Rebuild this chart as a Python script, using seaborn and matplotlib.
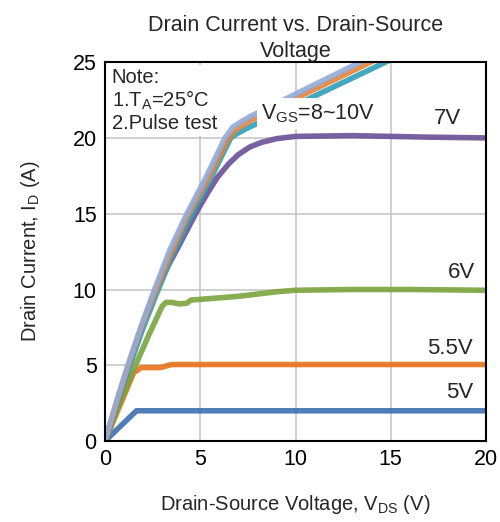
import pandas as pd
import matplotlib
matplotlib.use('Agg')
import matplotlib.pyplot as plt
import seaborn as sns

# Curves (V_DS in V, I_D in A)
vgs_10_x = [0, 0.6, 1.2, 1.9, 2.6, 3.4, 4.3, 5.3, 6.3, 6.7, 7.2, 7.6, 14.2]
vgs_10_y = [0, 2.6, 5.0, 7.6, 10.0, 12.6, 15.0, 17.4, 20.0, 20.7, 21.1, 21.4, 25.5]
vgs_9_x = [0, 0.6, 1.2, 1.9, 2.65, 3.5, 4.35, 5.4, 6.4, 6.8, 7.3, 7.7, 14.6]
vgs_9_y = [0, 2.5, 4.9, 7.5, 9.9, 12.5, 14.9, 17.3, 19.8, 20.5, 20.9, 21.2, 25.4]
vgs_8_x = [0, 0.6, 1.25, 1.95, 2.7, 3.55, 4.45, 5.5, 6.6, 6.95, 7.4, 7.9, 15.4]
vgs_8_y = [0, 2.4, 4.8, 7.3, 9.7, 12.3, 14.7, 17.2, 20.0, 20.3, 20.6, 20.9, 25.4]
vgs_7_x = [0, 0.6, 1.25, 1.9, 2.6, 3.2, 3.8, 4.3, 4.8, 5.4, 5.9, 6.5, 7.0, 7.6, 8.2, 9.0, 10.0, 13.0, 17.0, 20.0]
vgs_7_y = [0, 2.4, 4.9, 7.4, 9.8, 11.3, 12.7, 13.9, 15.1, 16.4, 17.4, 18.3, 18.9, 19.4, 19.7, 19.95, 20.1, 20.15, 20.05, 20.0]
vgs_6_x = [0, 0.8, 1.6, 2.3, 3.0, 3.2, 3.5, 3.9, 4.3, 4.5, 5.0, 7.0, 9.0, 10.0, 13.0, 16.0, 20.0]
vgs_6_y = [0, 2.6, 5.0, 7.0, 8.9, 9.15, 9.15, 9.05, 9.1, 9.3, 9.35, 9.55, 9.85, 9.95, 10.0, 10.0, 9.95]
vgs_55_x = [0, 1.5, 1.9, 2.9, 3.5, 20.0]
vgs_55_y = [0, 4.5, 4.85, 4.85, 5.05, 5.05]
vgs_5_x = [0, 1.65, 20.0]
vgs_5_y = [0, 2.0, 2.0]

series = [
    ('5V', vgs_5_x, vgs_5_y, '#3d6fb1'),
    ('5.5V', vgs_55_x, vgs_55_y, '#e8721c'),
    ('6V', vgs_6_x, vgs_6_y, '#7ba33d'),
    ('7V', vgs_7_x, vgs_7_y, '#6b4f96'),
    ('8V', vgs_8_x, vgs_8_y, '#30a0b8'),
    ('9V', vgs_9_x, vgs_9_y, '#e5833a'),
    ('10V', vgs_10_x, vgs_10_y, '#94abd8'),
]

rows = []
for name, xs, ys, _ in series:
    for x, y in zip(xs, ys):
        rows.append({'VGS': name, 'VDS': x, 'ID': y})
df = pd.DataFrame(rows)
palette = {name: c for name, _, _, c in series}

sns.set_theme(style='white')
plt.rcParams['font.family'] = ['Liberation Sans', 'DejaVu Sans']
plt.rcParams['mathtext.default'] = 'regular'

fig = plt.figure(figsize=(5.0, 5.22), dpi=100)
ax = fig.add_axes([0.21, 0.155, 0.762, 0.726])

sns.lineplot(data=df, x='VDS', y='ID', hue='VGS', palette=palette,
             sort=False, estimator=None, linewidth=4.0, alpha=0.9,
             legend=False, ax=ax)

ax.set_xlim(0, 20)
ax.set_ylim(0, 25)
ax.set_xticks([0, 5, 10, 15, 20])
ax.set_yticks([0, 5, 10, 15, 20, 25])
ax.grid(True, color='#c8c8c8', linewidth=1.2)
ax.set_axisbelow(True)
for s in ax.spines.values():
    s.set_color('black')
    s.set_linewidth(1.5)
ax.tick_params(labelsize=15.5, length=0, pad=6, colors='black')

ax.set_title('Drain Current vs. Drain-Source\nVoltage', fontsize=15.5, pad=4,
             linespacing=1.3)
ax.set_xlabel('Drain-Source Voltage, V$_{DS}$ (V)', fontsize=14.5, labelpad=16)
ax.set_ylabel('Drain Current, I$_D$ (A)', fontsize=14.5, labelpad=22)

ax.text(0.35, 24.6, 'Note:\n1.T$_A$=25°C\n2.Pulse test', fontsize=14.5,
        va='top', ha='left', linespacing=1.1,
        bbox=dict(facecolor='white', edgecolor='none', pad=2))
ax.text(8.2, 21.6, 'V$_{GS}$=8~10V', fontsize=15.5, va='center', ha='left',
        bbox=dict(facecolor='white', edgecolor='none', pad=3))

ax.text(18.0, 21.3, '7V', fontsize=16, ha='center', va='center')
ax.text(18.7, 11.1, '6V', fontsize=16, ha='center', va='center')
ax.text(18.1, 6.1, '5.5V', fontsize=16, ha='center', va='center')
ax.text(18.6, 3.2, '5V', fontsize=16, ha='center', va='center')

fig.savefig('out.png', dpi=100)
